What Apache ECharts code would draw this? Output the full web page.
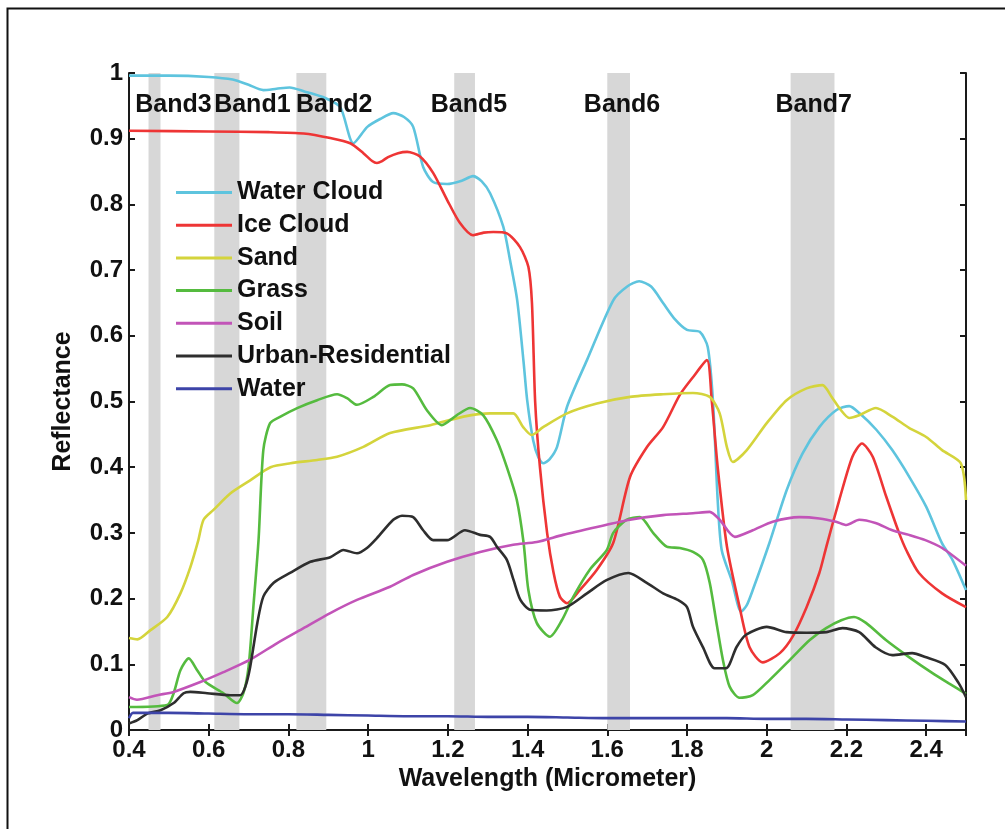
<!DOCTYPE html>
<html>
<head>
<meta charset="utf-8">
<script src="https://cdn.jsdelivr.net/npm/echarts@6/dist/echarts.min.js"></script>
<style>
  html, body { margin: 0; padding: 0; background: #fff; }
  #chart { width: 1005px; height: 829px; }
</style>
</head>
<body>
<div id="chart"></div>
<script>
// wavelength (micrometer), reflectance
var waterCloud = [[0.4,0.996],[0.5,0.996],[0.6,0.994],[0.66,0.99],[0.7,0.982],[0.737,0.974],[0.77,0.976],[0.803,0.978],[0.84,0.972],[0.888,0.963],[0.93,0.948],[0.963,0.893],[0.998,0.918],[1.03,0.93],[1.063,0.939],[1.09,0.933],[1.113,0.918],[1.138,0.857],[1.163,0.834],[1.198,0.831],[1.235,0.836],[1.263,0.843],[1.285,0.835],[1.306,0.817],[1.339,0.766],[1.356,0.715],[1.374,0.654],[1.39,0.56],[1.399,0.502],[1.414,0.441],[1.427,0.415],[1.439,0.406],[1.455,0.412],[1.474,0.431],[1.499,0.492],[1.549,0.563],[1.615,0.654],[1.65,0.675],[1.68,0.683],[1.71,0.675],[1.74,0.65],[1.77,0.625],[1.8,0.609],[1.832,0.606],[1.852,0.583],[1.865,0.502],[1.877,0.35],[1.887,0.274],[1.912,0.228],[1.936,0.18],[1.95,0.19],[1.965,0.213],[2.007,0.285],[2.05,0.365],[2.09,0.421],[2.132,0.461],[2.175,0.487],[2.207,0.493],[2.233,0.482],[2.275,0.457],[2.315,0.426],[2.358,0.385],[2.4,0.34],[2.44,0.284],[2.466,0.259],[2.5,0.213]];
var iceCloud = [[0.4,0.912],[0.6,0.911],[0.75,0.91],[0.838,0.908],[0.905,0.901],[0.955,0.893],[0.988,0.878],[1.01,0.866],[1.022,0.863],[1.035,0.866],[1.05,0.872],[1.075,0.878],[1.098,0.88],[1.13,0.873],[1.163,0.848],[1.198,0.807],[1.23,0.772],[1.263,0.753],[1.29,0.757],[1.314,0.758],[1.348,0.756],[1.381,0.735],[1.402,0.705],[1.411,0.65],[1.419,0.5],[1.431,0.4],[1.449,0.3],[1.465,0.24],[1.481,0.203],[1.499,0.193],[1.531,0.213],[1.574,0.244],[1.615,0.285],[1.657,0.385],[1.7,0.431],[1.74,0.461],[1.782,0.51],[1.815,0.537],[1.85,0.563],[1.862,0.502],[1.877,0.4],[1.9,0.28],[1.932,0.187],[1.957,0.126],[1.99,0.103],[2.033,0.117],[2.065,0.142],[2.1,0.187],[2.132,0.239],[2.15,0.28],[2.182,0.35],[2.215,0.416],[2.239,0.436],[2.266,0.416],[2.3,0.355],[2.332,0.3],[2.35,0.274],[2.382,0.239],[2.44,0.208],[2.5,0.187]];
var sand = [[0.4,0.14],[0.421,0.138],[0.454,0.152],[0.496,0.172],[0.529,0.208],[0.554,0.248],[0.574,0.289],[0.587,0.32],[0.612,0.335],[0.654,0.36],[0.704,0.38],[0.755,0.4],[0.805,0.406],[0.872,0.411],[0.922,0.416],[0.988,0.431],[1.055,0.452],[1.156,0.464],[1.239,0.477],[1.306,0.482],[1.364,0.482],[1.389,0.461],[1.41,0.449],[1.439,0.461],[1.499,0.482],[1.574,0.497],[1.657,0.507],[1.74,0.511],[1.815,0.513],[1.857,0.507],[1.882,0.482],[1.9,0.431],[1.915,0.408],[1.95,0.426],[2.0,0.467],[2.05,0.502],[2.1,0.52],[2.14,0.525],[2.163,0.507],[2.186,0.487],[2.207,0.475],[2.232,0.479],[2.274,0.49],[2.315,0.477],[2.357,0.46],[2.4,0.446],[2.44,0.426],[2.487,0.406],[2.5,0.35]];
var grass = [[0.4,0.035],[0.496,0.038],[0.512,0.056],[0.529,0.091],[0.55,0.109],[0.571,0.091],[0.592,0.073],[0.637,0.056],[0.671,0.041],[0.687,0.056],[0.7,0.096],[0.712,0.187],[0.725,0.289],[0.737,0.426],[0.754,0.467],[0.78,0.477],[0.822,0.49],[0.872,0.502],[0.922,0.511],[0.947,0.505],[0.972,0.495],[1.013,0.507],[1.055,0.525],[1.085,0.526],[1.113,0.52],[1.147,0.487],[1.185,0.464],[1.222,0.479],[1.256,0.49],[1.289,0.479],[1.323,0.441],[1.348,0.4],[1.373,0.35],[1.39,0.285],[1.402,0.213],[1.423,0.163],[1.456,0.142],[1.486,0.167],[1.515,0.203],[1.556,0.244],[1.599,0.274],[1.615,0.3],[1.648,0.32],[1.682,0.324],[1.715,0.3],[1.749,0.279],[1.782,0.277],[1.815,0.271],[1.84,0.259],[1.857,0.224],[1.874,0.163],[1.89,0.107],[1.907,0.066],[1.932,0.049],[1.965,0.053],[2.007,0.076],[2.065,0.111],[2.108,0.137],[2.149,0.155],[2.187,0.167],[2.219,0.172],[2.249,0.163],[2.299,0.137],[2.357,0.111],[2.415,0.087],[2.457,0.071],[2.5,0.055]];
var soil = [[0.4,0.05],[0.42,0.046],[0.471,0.053],[0.512,0.058],[0.579,0.073],[0.637,0.088],[0.704,0.107],[0.771,0.132],[0.838,0.155],[0.905,0.178],[0.972,0.198],[1.055,0.218],[1.113,0.236],[1.198,0.256],[1.281,0.271],[1.364,0.282],[1.423,0.286],[1.489,0.297],[1.574,0.309],[1.657,0.32],[1.74,0.327],[1.815,0.33],[1.857,0.332],[1.882,0.32],[1.92,0.294],[1.965,0.304],[2.015,0.317],[2.082,0.324],[2.132,0.322],[2.174,0.317],[2.2,0.312],[2.232,0.32],[2.273,0.315],[2.315,0.304],[2.357,0.297],[2.398,0.289],[2.44,0.277],[2.5,0.25]];
var urban = [[0.4,0.01],[0.421,0.015],[0.446,0.025],[0.479,0.03],[0.512,0.041],[0.537,0.056],[0.554,0.058],[0.596,0.056],[0.654,0.053],[0.679,0.053],[0.692,0.066],[0.704,0.096],[0.722,0.163],[0.737,0.203],[0.763,0.224],[0.804,0.239],[0.855,0.256],[0.905,0.263],[0.938,0.274],[0.972,0.269],[0.997,0.277],[1.022,0.292],[1.063,0.32],[1.085,0.326],[1.113,0.324],[1.138,0.304],[1.163,0.289],[1.198,0.289],[1.243,0.304],[1.281,0.297],[1.306,0.294],[1.323,0.279],[1.348,0.259],[1.365,0.228],[1.382,0.198],[1.406,0.183],[1.448,0.182],[1.498,0.187],[1.549,0.208],[1.598,0.228],[1.653,0.239],[1.699,0.224],[1.74,0.208],[1.777,0.198],[1.8,0.187],[1.815,0.157],[1.84,0.126],[1.869,0.094],[1.898,0.094],[1.924,0.126],[1.948,0.145],[2.0,0.157],[2.05,0.149],[2.1,0.148],[2.15,0.149],[2.19,0.155],[2.232,0.149],[2.273,0.126],[2.315,0.114],[2.365,0.117],[2.398,0.111],[2.448,0.099],[2.482,0.071],[2.5,0.05]];
var water = [[0.4,0.018],[0.41,0.026],[0.5,0.026],[0.6,0.025],[0.7,0.024],[0.8,0.024],[0.9,0.023],[1.0,0.022],[1.1,0.021],[1.2,0.021],[1.3,0.02],[1.4,0.02],[1.5,0.019],[1.6,0.018],[1.7,0.018],[1.8,0.018],[1.9,0.018],[2.0,0.017],[2.1,0.017],[2.2,0.016],[2.3,0.015],[2.4,0.014],[2.5,0.013]];

var seriesNames = ["Water Cloud", "Ice Cloud", "Sand", "Grass", "Soil", "Urban-Residential", "Water"];
var seriesColors = ["#5ec4de", "#ee3535", "#d4d43c", "#55bb3f", "#c254b8", "#2e2e2e", "#3d44a8"];
var seriesData = [waterCloud, iceCloud, sand, grass, soil, urban, water];

// band ranges (micrometer) and label anchor points
var bandNames = ["Band3", "Band1", "Band2", "Band5", "Band6", "Band7"];
var bandRanges = [[0.449, 0.479], [0.614, 0.677], [0.82, 0.895], [1.216, 1.268], [1.6, 1.657], [2.06, 2.17]];
var bandLabelX = [0.5115, 0.7095, 0.915, 1.253, 1.637, 2.118];
var bandLabelY = 0.951;

var xTicks = { min: 0.4, max: 2.5, step: 0.2 };
var yTicks = { min: 0, max: 1, step: 0.1 };

var FONT = "'Liberation Sans', Arial, Helvetica, sans-serif";
var chart = echarts.init(document.getElementById("chart"));

function fmt(v) { return String(+v.toFixed(1)); }

var axisLine = { show: true, lineStyle: { color: "#1a1a1a", width: 2 } };
var axisTick = { show: true, inside: true, length: 6, lineStyle: { color: "#1a1a1a", width: 2 } };

var series = [];
// gray band backgrounds
series.push({
  type: "line",
  data: [],
  silent: true,
  z: 1,
  markArea: {
    silent: true,
    itemStyle: { color: "#d7d7d7" },
    data: bandRanges.map(function (r) { return [{ xAxis: r[0] }, { xAxis: r[1] }]; })
  }
});
for (var i = 0; i < seriesNames.length; i++) {
  series.push({
    name: seriesNames[i],
    type: "line",
    data: seriesData[i],
    showSymbol: false,
    symbol: "none",
    smooth: 0.25,
    z: 3,
    lineStyle: { color: seriesColors[i], width: 2.6 },
    itemStyle: { color: seriesColors[i] }
  });
}
// band labels
series.push({
  type: "scatter",
  silent: true,
  symbolSize: 1,
  itemStyle: { color: "rgba(0,0,0,0)", opacity: 1 },
  z: 4,
  data: bandNames.map(function (n, k) { return { value: [bandLabelX[k], bandLabelY], name: n }; }),
  label: {
    show: true,
    position: "inside",
    formatter: "{b}",
    color: "#111",
    opacity: 1,
    textBorderWidth: 0,
    fontFamily: FONT,
    fontWeight: "bold",
    fontSize: 25
  }
});

var option = {
  backgroundColor: "#fff",
  animation: false,
  textStyle: { fontFamily: FONT },
  graphic: [{
    type: "rect",
    left: 5, top: 6,
    shape: { width: 1010, height: 830 },
    style: { fill: "none", stroke: "#111", lineWidth: 2 },
    silent: true
  }],
  grid: { left: 129, right: 39, top: 73, bottom: 99, containLabel: false },
  legend: {
    data: seriesNames,
    orient: "vertical",
    left: 171,
    top: 175,
    icon: "rect",
    itemWidth: 56,
    itemHeight: 3,
    itemGap: 7.7,
    textStyle: { fontFamily: FONT, fontWeight: "bold", fontSize: 25, lineHeight: 25, color: "#111" }
  },
  xAxis: [{
    type: "value",
    position: "bottom",
    min: xTicks.min, max: xTicks.max, interval: xTicks.step,
    name: "Wavelength (Micrometer)",
    nameLocation: "middle",
    nameGap: 31,
    nameTextStyle: { fontFamily: FONT, fontWeight: "bold", fontSize: 25, color: "#111" },
    axisLine: axisLine,
    axisTick: axisTick,
    splitLine: { show: false },
    axisLabel: {
      margin: 8, formatter: fmt, showMaxLabel: false,
      fontFamily: FONT, fontWeight: "bold", fontSize: 24, color: "#111"
    }
  }, {
    type: "value",
    position: "top",
    min: xTicks.min, max: xTicks.max, interval: xTicks.step,
    axisLine: axisLine,
    axisTick: axisTick,
    splitLine: { show: false },
    axisLabel: { show: false }
  }],
  yAxis: [{
    type: "value",
    position: "left",
    min: yTicks.min, max: yTicks.max, interval: yTicks.step,
    name: "Reflectance",
    nameLocation: "middle",
    nameGap: 53,
    nameTextStyle: { fontFamily: FONT, fontWeight: "bold", fontSize: 25, color: "#111" },
    axisLine: axisLine,
    axisTick: axisTick,
    splitLine: { show: false },
    axisLabel: {
      margin: 6, formatter: fmt,
      fontFamily: FONT, fontWeight: "bold", fontSize: 24, color: "#111"
    }
  }, {
    type: "value",
    position: "right",
    min: yTicks.min, max: yTicks.max, interval: yTicks.step,
    axisLine: axisLine,
    axisTick: axisTick,
    splitLine: { show: false },
    axisLabel: { show: false }
  }],
  series: series
};

chart.setOption(option);
</script>
</body>
</html>
